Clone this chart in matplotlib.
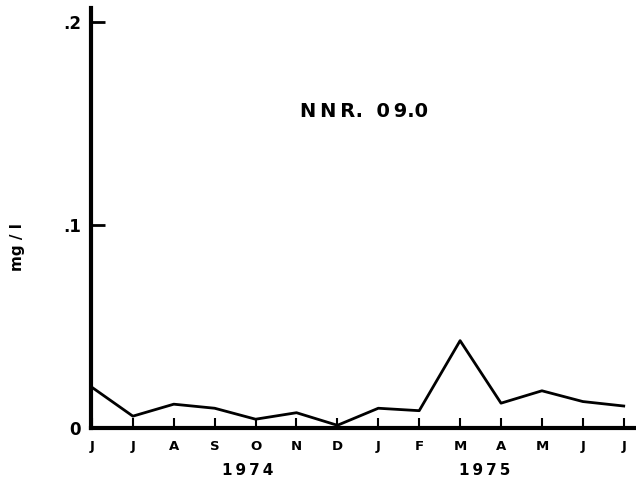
"""Monthly concentration at station NNR. 09.0, June 1974 - June 1975."""

import matplotlib

matplotlib.use("Agg")
import matplotlib.pyplot as plt

# Monthly values (mg/l), June 1974 through June 1975
months = ["J", "J", "A", "S", "O", "N", "D", "J", "F", "M", "A", "M", "J", "J"]
concentration = [0.020, 0.0058, 0.0117, 0.0097, 0.0043, 0.0075, 0.0013,
                 0.0097, 0.0085, 0.043, 0.0122, 0.0183, 0.013, 0.0108]
year_labels = ["1974", "1975"]
year_positions = [3.8, 9.6]
y_ticks = [0, 0.1, 0.2]
y_tick_labels = ["0", ".1", ".2"]
title = "NNR. 09.0"
y_label = "mg / l"

THIN = "\u2009"


def spaced(text):
    """Open up letter spacing a little, like the hand lettering."""
    out = text[0]
    for prev, char in zip(text, text[1:]):
        if prev not in ". " and char not in ". ":
            out += THIN
        out += "  " if char == " " else char
    return out


plt.rcParams["font.family"] = ["DejaVu Sans"]

fig = plt.figure(figsize=(6.36, 4.83), dpi=100)
ax = fig.add_axes([0.143, 0.114, 0.857, 0.87])

x = list(range(len(months)))
ax.plot(x, concentration, color="black", linewidth=2.0)

ax.set_xlim(-0.025, 13.3)
ax.set_ylim(0, 0.207)

ax.spines["top"].set_visible(False)
ax.spines["right"].set_visible(False)
ax.spines["left"].set_linewidth(3.0)
ax.spines["bottom"].set_linewidth(3.0)

ax.set_xticks(x)
ax.set_xticklabels(months, fontsize=9.5, fontweight="bold")
ax.set_yticks(y_ticks)
ax.set_yticklabels(y_tick_labels, fontsize=12, fontweight="bold")
ax.tick_params(axis="x", direction="in", length=7, width=1.5, pad=9)
ax.tick_params(axis="y", direction="in", length=10, width=2, pad=7)

for label, pos in zip(year_labels, year_positions):
    ax.text(pos, -0.0208, spaced(label), ha="center", va="center",
            fontsize=11, fontweight="bold", clip_on=False)

ax.text(0.501, 0.752, spaced(title), fontsize=14, fontweight="bold",
        transform=ax.transAxes, ha="center", va="center")

fig.text(0.027, 0.489, y_label, rotation=90, fontsize=11, fontweight="bold",
         ha="center", va="center")

fig.savefig("out.png", dpi=100)
